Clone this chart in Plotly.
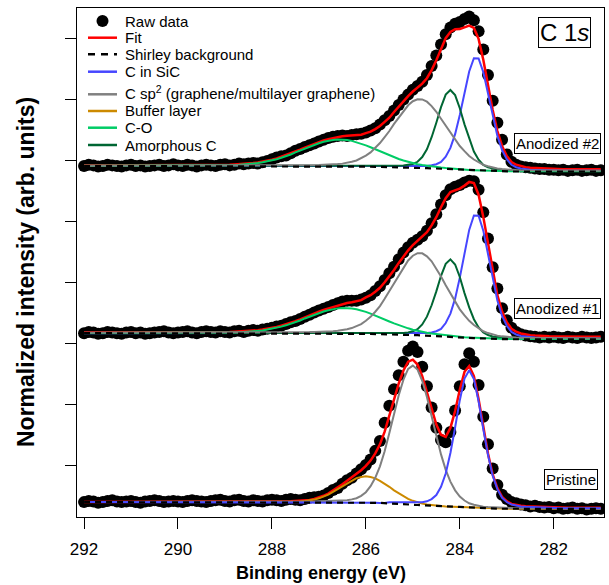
import plotly.graph_objects as go

# ---------------- data (binding energy grid, eV) ----------------
energy = [round(292.0 - 0.1 * i, 1) for i in range(111)]

x_tick_vals = [292, 290, 288, 286, 284, 282]
y_tick_vals = [1, 2, 3, 4, 5, 6, 7, 8]

# ---------- Pristine ----------
pristine_raw = [0.40, 0.42, 0.41, 0.39, 0.40, 0.42, 0.43, 0.41, 0.40, 0.41,
                0.42, 0.40, 0.39, 0.41, 0.42, 0.43, 0.42, 0.40, 0.41, 0.42,
                0.41, 0.40, 0.42, 0.43, 0.42, 0.41, 0.40, 0.42, 0.43, 0.44,
                0.42, 0.41, 0.43, 0.44, 0.42, 0.41, 0.43, 0.42, 0.41, 0.43,
                0.44, 0.43, 0.42, 0.44, 0.45, 0.44, 0.43, 0.45, 0.47, 0.48,
                0.49, 0.51, 0.55, 0.60, 0.63, 0.70, 0.76, 0.80, 0.87, 0.94,
                1.01, 1.10, 1.24, 1.40, 1.70, 1.98, 2.25, 2.48, 2.70, 2.88,
                2.95, 2.86, 2.62, 2.30, 1.95, 1.62, 1.42, 1.38, 1.55, 1.90,
                2.30, 2.66, 2.84, 2.70, 2.32, 1.80, 1.35, 0.95, 0.68, 0.52,
                0.45, 0.40, 0.38, 0.36, 0.35, 0.33, 0.34, 0.32, 0.31, 0.32,
                0.30, 0.31, 0.29, 0.30, 0.31, 0.29, 0.30, 0.28, 0.29, 0.30, 0.29]
pristine_bg = ([0.40] * 46 +
               [.400, .400, .399, .399, .399, .398, .398, .397, .397, .396, .395, .395, .394, .393, .393] +
               [.391, .389, .387, .384, .381, .377, .373, .368, .363, .358,
                .353, .348, .343, .339, .335, .332, .329, .326, .323, .321,
                .316, .311, .306, .301, .297, .295, .293, .292, .291, .291] +
               [0.29] * 20)
pristine_sic = ([0.0] * 65 +
                [0.015, 0.018, 0.022, 0.025, 0.03, 0.034, 0.04, 0.05, 0.07, 0.11,
                 0.18, 0.32, 0.54, 0.88, 1.30, 1.75, 2.11, 2.25, 2.11, 1.75,
                 1.30, 0.88, 0.54, 0.32, 0.18, 0.11, 0.07, 0.05, 0.04, 0.034,
                 0.03, 0.025, 0.022, 0.018, 0.015, 0.013] +
                [0.01] * 10)
pristine_sp2 = ([0.0] * 40 + [0.01] * 10 +
                [0.014, 0.016, 0.018, 0.02, 0.023, 0.027, 0.034, 0.05, 0.07, 0.11,
                 0.17, 0.27, 0.41, 0.60, 0.85, 1.15, 1.47, 1.78, 2.04, 2.22,
                 2.28,
                 2.22, 2.04, 1.78, 1.47, 1.15, 0.85, 0.60, 0.41, 0.27, 0.17,
                 0.11, 0.07, 0.05, 0.034, 0.027, 0.023, 0.02, 0.018, 0.016, 0.014] +
                [0.01] * 10 + [0.007] * 10)
pristine_buffer = ([0.0] * 44 +
                   [.003, .006, .01, .017, .027, .042, .063, .09, .125, .17,
                    .215, .27, .32, .36, .40, .42, .43, .42, .40, .36,
                    .32, .27, .215, .17, .125, .09, .063, .042, .027, .017,
                    .01, .006, .003] +
                   [0.0] * 34)

# ---------- Anodized #1 ----------
anod1_raw = [3.17, 3.19, 3.18, 3.16, 3.17, 3.19, 3.18, 3.17, 3.16, 3.18,
             3.19, 3.17, 3.18, 3.16, 3.17, 3.18, 3.19, 3.20, 3.18, 3.17,
             3.18, 3.19, 3.20, 3.18, 3.17, 3.19, 3.20, 3.19, 3.18, 3.20,
             3.19, 3.18, 3.20, 3.21, 3.19, 3.21, 3.22, 3.21, 3.23, 3.24,
             3.26, 3.28, 3.29, 3.32, 3.35, 3.37, 3.40, 3.44, 3.47, 3.51,
             3.54, 3.57, 3.60, 3.63, 3.66, 3.69, 3.70, 3.70, 3.70, 3.72,
             3.75, 3.79, 3.86, 3.94, 4.04, 4.15, 4.26, 4.38, 4.49, 4.58,
             4.65, 4.70, 4.76, 4.85, 4.97, 5.12, 5.28, 5.43, 5.53, 5.57,
             5.60, 5.64, 5.67, 5.66, 5.52, 5.15, 4.72, 4.25, 3.90, 3.58,
             3.38, 3.26, 3.19, 3.15, 3.13, 3.12, 3.11, 3.10, 3.11, 3.10,
             3.11, 3.10, 3.09, 3.11, 3.10, 3.09, 3.11, 3.10, 3.09, 3.10, 3.11]
anod1_bg = ([3.17] * 41 +
            [3.17, 3.17, 3.169, 3.169, 3.168, 3.168, 3.167, 3.167, 3.166, 3.166,
             3.165, 3.164, 3.164, 3.163, 3.162, 3.161, 3.16, 3.16, 3.159, 3.158,
             3.157, 3.156, 3.154, 3.153, 3.151, 3.149, 3.147, 3.144, 3.142, 3.139,
             3.136, 3.133, 3.130, 3.127, 3.124, 3.12, 3.115, 3.11, 3.105, 3.10,
             3.096, 3.092, 3.088, 3.084, 3.08, 3.078, 3.076, 3.074, 3.072, 3.071] +
            [3.07] * 20)
anod1_sic = ([0.0] * 60 + [0.012] * 5 +
             [0.014, 0.015, 0.016, 0.018, 0.02, 0.024, 0.029, 0.033, 0.041, 0.053,
              0.078, 0.12, 0.22, 0.38, 0.63, 0.98, 1.39, 1.77, 2.01] +
             [2.01, 1.77, 1.39, 0.98, 0.63, 0.38, 0.22, 0.12, 0.078, 0.053,
              0.041, 0.033, 0.029, 0.024, 0.02, 0.018, 0.016] +
             [0.014] * 10)
anod1_sp2 = ([0.006] * 22 + [0.008] * 10 + [0.013] * 10 + [0.017] * 5 +
             [0.019, 0.02, 0.023, 0.024, 0.027, 0.03, 0.036, 0.045, 0.055, 0.072,
              0.093, 0.12, 0.16, 0.215, 0.28, 0.365, 0.46, 0.58, 0.71, 0.84,
              0.98, 1.11, 1.22, 1.30, 1.345] +
             [1.345, 1.30, 1.22, 1.11, 0.98, 0.84, 0.71, 0.58, 0.46, 0.365,
              0.28, 0.215, 0.16, 0.12, 0.093, 0.072, 0.055, 0.045, 0.036, 0.03,
              0.027, 0.024, 0.023, 0.02, 0.019] +
             [0.017] * 5 + [0.013] * 9)
anod1_co = ([0.003] * 16 + [0.004] * 10 + [0.006] * 4 +
            [.0075, .009, .011, .014, .018, .023, .029, .036, .045, .058,
             .071, .088, .107, .129, .154, .181, .21, .244, .275, .305,
             .333, .36, .382, .40, .413, .42] +
            [.42, .413, .40, .382, .36, .333, .305, .275, .244, .21,
             .181, .154, .129, .107, .088, .071, .058, .045, .036, .029,
             .023, .018, .014, .011, .009, .0075] +
            [0.006] * 4 + [0.004] * 10 + [0.003] * 15)
anod1_amorph = ([0.0] * 55 + [0.01] * 8 +
                [0.013, 0.014, 0.017, 0.019, 0.024, 0.029, 0.039, 0.061, 0.10, 0.18,
                 0.31, 0.50, 0.73, 0.99, 1.19, 1.27, 1.19, 0.99, 0.73, 0.50,
                 0.31, 0.18, 0.10, 0.061, 0.039, 0.029, 0.024, 0.019, 0.017, 0.014, 0.013] +
                [0.01] * 17)

# ---------- Anodized #2 ----------
anod2_raw = [5.91, 5.93, 5.92, 5.90, 5.91, 5.93, 5.92, 5.91, 5.90, 5.92,
             5.93, 5.91, 5.92, 5.90, 5.91, 5.92, 5.93, 5.91, 5.92, 5.94,
             5.92, 5.91, 5.93, 5.92, 5.90, 5.92, 5.93, 5.92, 5.91, 5.93,
             5.94, 5.92, 5.93, 5.95, 5.94, 5.95, 5.96, 5.95, 5.97, 5.99,
             6.02, 6.05, 6.07, 6.08, 6.12, 6.16, 6.19, 6.22, 6.25, 6.28,
             6.31, 6.34, 6.37, 6.39, 6.40, 6.41, 6.40, 6.42, 6.43, 6.44,
             6.46, 6.49, 6.53, 6.59, 6.66, 6.73, 6.82, 6.91, 7.00, 7.08,
             7.16, 7.22, 7.29, 7.40, 7.55, 7.72, 7.90, 8.07, 8.18, 8.24,
             8.27, 8.32, 8.36, 8.30, 8.12, 7.82, 7.40, 6.98, 6.62, 6.34,
             6.10, 5.98, 5.93, 5.90, 5.89, 5.88, 5.87, 5.86, 5.86, 5.85,
             5.85, 5.84, 5.85, 5.83, 5.84, 5.85, 5.83, 5.84, 5.85, 5.83, 5.84]
anod2_bg = ([5.91] * 41 +
            [5.91, 5.91, 5.909, 5.909, 5.909, 5.908, 5.908, 5.907, 5.907, 5.906,
             5.906, 5.905, 5.904, 5.904, 5.903, 5.902, 5.902, 5.901, 5.90, 5.899,
             5.898, 5.897, 5.896, 5.895, 5.893, 5.891, 5.889, 5.887, 5.885, 5.882,
             5.879, 5.877, 5.874, 5.872, 5.869, 5.865, 5.861, 5.856, 5.852, 5.847,
             5.843, 5.840, 5.836, 5.833, 5.829, 5.827, 5.825, 5.823, 5.822, 5.821] +
            [5.82] * 20)
anod2_sic = ([0.0] * 60 + [0.01] * 5 +
             [0.012, 0.013, 0.015, 0.017, 0.019, 0.022, 0.026, 0.03, 0.037, 0.05,
              0.07, 0.11, 0.20, 0.35, 0.58, 0.90, 1.27, 1.62, 1.84] +
             [1.84, 1.62, 1.27, 0.90, 0.58, 0.35, 0.20, 0.11, 0.07, 0.05,
              0.037, 0.03, 0.026, 0.022, 0.019, 0.017, 0.015] +
             [0.012] * 10)
anod2_sp2 = ([0.005] * 22 + [0.007] * 10 + [0.011] * 10 + [0.014] * 5 +
             [0.016, 0.017, 0.019, 0.02, 0.023, 0.025, 0.03, 0.037, 0.046, 0.06,
              0.078, 0.10, 0.135, 0.18, 0.235, 0.31, 0.39, 0.49, 0.59, 0.71,
              0.82, 0.93, 1.02, 1.09, 1.125] +
             [1.125, 1.09, 1.02, 0.93, 0.82, 0.71, 0.59, 0.49, 0.39, 0.31,
              0.235, 0.18, 0.135, 0.10, 0.078, 0.06, 0.046, 0.037, 0.03, 0.025,
              0.023, 0.02, 0.019, 0.017, 0.016] +
             [0.014] * 5 + [0.011] * 9)
anod2_co = ([0.003] * 15 + [0.004] * 10 + [0.006] * 4 +
            [0.008, 0.0095, 0.012, 0.015, 0.019, 0.024, 0.03, 0.038, 0.048, 0.06,
             0.075, 0.092, 0.112, 0.136, 0.161, 0.19, 0.224, 0.256, 0.288, 0.32,
             0.35, 0.377, 0.40, 0.42, 0.433, 0.44] +
            [0.44, 0.433, 0.42, 0.40, 0.377, 0.35, 0.32, 0.288, 0.256, 0.224,
             0.19, 0.161, 0.136, 0.112, 0.092, 0.075, 0.06, 0.048, 0.038, 0.03,
             0.024, 0.019, 0.015, 0.012, 0.0095, 0.008] +
            [0.006] * 4 + [0.004] * 10 + [0.003] * 16)
anod2_amorph = ([0.0] * 55 + [0.01] * 8 +
                [0.013, 0.014, 0.017, 0.02, 0.025, 0.03, 0.04, 0.062, 0.10, 0.18,
                 0.31, 0.51, 0.75, 1.01, 1.22, 1.30, 1.22, 1.01, 0.75, 0.51,
                 0.31, 0.18, 0.10, 0.062, 0.04, 0.03, 0.025, 0.02, 0.017, 0.014, 0.013] +
                [0.01] * 17)

sample_labels = ["Pristine", "Anodized #1", "Anodized #2"]
legend_keys = ["raw", "fit", "bg", "sic", "sp2", "buffer", "co", "amorph"]
legend_labels = ["Raw data", "Fit", "Shirley background", "C in SiC",
                 "C sp<sup>2</sup> (graphene/multilayer graphene)", "Buffer layer",
                 "C-O", "Amorphous C"]

# ---------------- styling ----------------
RED = "#ff0000"
BLUE = "#4646ff"
GREY = "#808080"
ORANGE = "#cc8a00"
CO_GREEN = "#00cc66"
AM_GREEN = "#006633"
FONT = "Arial, Liberation Sans, sans-serif"

names = dict(zip(legend_keys, legend_labels))
colors = {"fit": RED, "bg": "black", "sic": BLUE, "sp2": GREY, "buffer": ORANGE,
          "co": CO_GREEN, "amorph": AM_GREEN}

fig = go.Figure()


def add_spectrum(raw, bg, comps, order):
    n = len(energy)
    fit = [bg[i] + sum(c[i] for c in comps.values()) for i in range(n)]
    fig.add_trace(go.Scatter(x=energy, y=raw, mode="markers", name=names["raw"],
                             marker=dict(color="black", size=12, line=dict(width=0))))
    fig.add_trace(go.Scatter(x=energy, y=fit, mode="lines", name=names["fit"],
                             line=dict(color=RED, width=2.5)))
    for key in order:
        c = comps[key]
        fig.add_trace(go.Scatter(x=energy, y=[bg[i] + c[i] for i in range(n)], mode="lines",
                                 name=names[key], line=dict(color=colors[key], width=2)))
    fig.add_trace(go.Scatter(x=energy, y=bg, mode="lines", name=names["bg"],
                             line=dict(color="black", width=2.2, dash="6px,5px")))


add_spectrum(pristine_raw, pristine_bg,
             {"sic": pristine_sic, "sp2": pristine_sp2, "buffer": pristine_buffer},
             ["buffer", "sp2", "sic"])
add_spectrum(anod1_raw, anod1_bg,
             {"sic": anod1_sic, "sp2": anod1_sp2, "co": anod1_co, "amorph": anod1_amorph},
             ["sic", "amorph", "co", "sp2"])
add_spectrum(anod2_raw, anod2_bg,
             {"sic": anod2_sic, "sp2": anod2_sp2, "co": anod2_co, "amorph": anod2_amorph},
             ["sic", "amorph", "co", "sp2"])

# ---------------- plot-area geometry helpers (pixels -> paper) ----------------
W, H = 609, 585
ML, MR, MT, MB = 77, 5, 8, 68
PW, PH = W - ML - MR, H - MT - MB


def px(xp):
    return (xp - ML) / PW


def py(yp):
    return (H - MB - yp) / PH


# ---------------- hand-built legend (matches the reference's compact layout) ----------------
row_y = [21, 37.7, 54.3, 71.7, 94.3, 111, 127.7, 145]
shapes = []
annotations = []
for key, label, yrow in zip(legend_keys, legend_labels, row_y):
    if key == "raw":
        r = 6.0
        shapes.append(dict(type="circle", xref="paper", yref="paper",
                           x0=px(102.5 - r), x1=px(102.5 + r), y0=py(yrow + r), y1=py(yrow - r),
                           fillcolor="black", line=dict(width=0)))
    else:
        line = dict(color=colors[key], width=2.5 if key != "bg" else 2.4)
        if key == "bg":
            line["dash"] = "7px,6px"
        shapes.append(dict(type="line", xref="paper", yref="paper",
                           x0=px(88), x1=px(117), y0=py(yrow), y1=py(yrow), line=line))
    ty = yrow - 2 if key == "sp2" else yrow
    annotations.append(dict(text=label, x=px(123), y=py(ty), xref="paper", yref="paper",
                            xanchor="left", yanchor="middle", showarrow=False,
                            font=dict(family=FONT, size=15, color="black")))

box = dict(showarrow=False, xref="paper", yref="paper", xanchor="center", yanchor="middle",
           bordercolor="black", borderwidth=1, borderpad=1, bgcolor="white")

annotations += [
    dict(text="C 1<i>s</i>", x=px(564), y=py(32.5), font=dict(family=FONT, size=24, color="black"), **box),
    dict(text=sample_labels[2], x=px(557.5), y=py(144), font=dict(family=FONT, size=15, color="black"), **box),
    dict(text=sample_labels[1], x=px(557.5), y=py(308.5), font=dict(family=FONT, size=15, color="black"), **box),
    dict(text=sample_labels[0], x=px(570.5), y=py(479.5), font=dict(family=FONT, size=15, color="black"), **box),
    dict(text="<b>Binding energy (eV)</b>", x=px(320.5), y=py(573), xref="paper", yref="paper",
         xanchor="center", yanchor="middle",
         showarrow=False, font=dict(family=FONT, size=18, color="black")),
    dict(text="<b>Normalized intensity (arb. units)</b>", x=px(25.5), y=py(272.5), xref="paper",
         yref="paper", xanchor="center", yanchor="middle", showarrow=False, textangle=-90,
         font=dict(family=FONT, size=23, color="black")),
]

fig.update_layout(
    width=W, height=H,
    margin=dict(l=ML, r=MR, t=MT, b=MB),
    paper_bgcolor="white", plot_bgcolor="white",
    font=dict(family=FONT, color="black"),
    showlegend=False,
    annotations=annotations,
    shapes=shapes,
    xaxis=dict(range=[292.15, 280.93], tickvals=x_tick_vals, ticktext=[str(v) for v in x_tick_vals],
               ticks="outside", ticklen=11, tickwidth=1, tickcolor="black", ticklabelstandoff=6,
               showline=True, linecolor="black", linewidth=1, mirror=True,
               showgrid=False, zeroline=False, tickfont=dict(family=FONT, size=17, color="black")),
    yaxis=dict(range=[0.156, 8.5], tickvals=y_tick_vals, showticklabels=False,
               ticks="outside", ticklen=11, tickwidth=1, tickcolor="black",
               showline=True, linecolor="black", linewidth=1, mirror=True,
               showgrid=False, zeroline=False),
)

fig.write_html("out.html")
